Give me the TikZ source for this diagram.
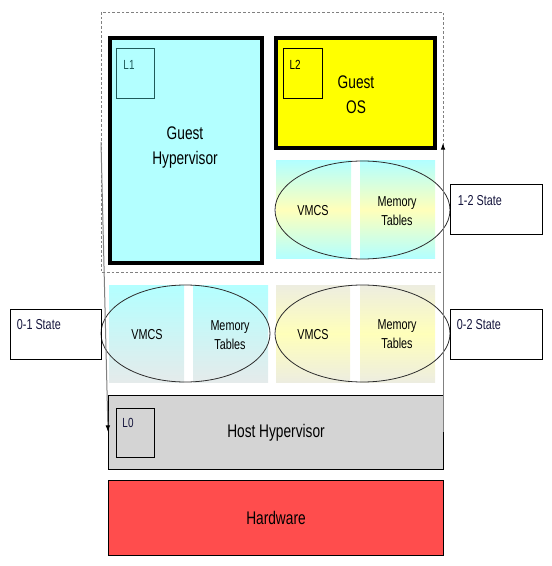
\documentclass[tikz,border=0pt]{standalone}
\usepackage{fontspec}
\setmainfont{Liberation Sans}[FakeStretch=0.75]
\usetikzlibrary{arrows.meta}

\definecolor{hypcyan}{RGB}{179,255,255}
\definecolor{osyellow}{RGB}{255,255,0}
\definecolor{hostgray}{RGB}{212,212,212}
\definecolor{hwred}{RGB}{255,77,77}
\definecolor{paleyellow}{RGB}{255,255,186}
\definecolor{palegray}{RGB}{229,235,235}
\definecolor{palebeige}{RGB}{237,237,224}
\definecolor{tealline}{RGB}{31,90,90}
\definecolor{labelink}{RGB}{20,20,60}
\definecolor{ringline}{RGB}{45,45,45}

\tikzset{every picture/.style={line width=0.75pt}}
\tikzset{
  bigtext/.style={font=\fontsize{13.7}{18.75}\selectfont, align=center},
  midtext/.style={font=\fontsize{10.8}{14.25}\selectfont, align=center},
  tagtext/.style={font=\fontsize{9.9}{12}\selectfont},
  statetext/.style={font=\fontsize{10.8}{13}\selectfont, text=labelink, anchor=west},
  statering/.style={draw=ringline, line width=0.6pt},
  statelink/.style={draw=gray, line width=0.75pt, -{Latex[length=5pt,width=3.5pt,color=black]}},
}

\begin{document}
\begin{tikzpicture}[x=0.75pt,y=0.75pt,yscale=-1,xscale=1]
	\useasboundingbox (0,0) rectangle (551,566);

	%Shape: Rectangle [dashed frame] 
	\draw [draw=gray, line width=0.6pt, dash pattern=on 2pt off 1.5pt] (101,12) rectangle (443,272) ;

	%Shape: Rectangle [guest hypervisor] 
	\draw [fill=hypcyan, line width=2.4pt] (110,38) rectangle (262,263) ;
	%Shape: Rectangle [l1 tag] 
	\draw [draw=tealline] (116,49) rectangle (154,99) ;
	%Shape: Rectangle [guest os] 
	\draw [fill=osyellow, line width=2.4pt] (276,38) rectangle (435,148) ;
	%Shape: Rectangle [l2 tag] 
	\draw (283,49) rectangle (322,99) ;

	%Shape: Shaded panels [1-2 state] 
	\shade [top color=hypcyan, bottom color=hypcyan, middle color=paleyellow] (276,161) rectangle (351,258) ;
	\shade [top color=hypcyan, bottom color=hypcyan, middle color=paleyellow] (360,161) rectangle (435,258) ;
	%Shape: Ellipse 
	\draw [statering] (362.5,210) ellipse [x radius=87.5, y radius=49] ;

	%Shape: Shaded panels [0-1 state] 
	\shade [top color=hypcyan, bottom color=palegray] (109,285) rectangle (184,382) ;
	\shade [top color=hypcyan, bottom color=palegray] (193,285) rectangle (268,382) ;
	%Shape: Ellipse 
	\draw [statering] (185.5,333.5) ellipse [x radius=84.5, y radius=48.5] ;

	%Shape: Shaded panels [0-2 state] 
	\shade [top color=palebeige, bottom color=palebeige, middle color=paleyellow] (276,285) rectangle (350,382) ;
	\shade [top color=palebeige, bottom color=palebeige, middle color=paleyellow] (360,285) rectangle (435,382) ;
	%Shape: Ellipse 
	\draw [statering] (362.5,333.5) ellipse [x radius=87.5, y radius=48.5] ;

	%Shape: Rectangle [state boxes] 
	\draw (10,309) rectangle (101,359) ;
	\draw (450,185) rectangle (542,235) ;
	\draw (450,309) rectangle (542,359) ;

	%Shape: Rectangle [host hypervisor] 
	\draw [fill=hostgray] (108,395) rectangle (443,469) ;
	%Shape: Rectangle [l0 tag] 
	\draw (116,408) rectangle (154,457) ;
	%Shape: Rectangle [hardware] 
	\draw [fill=hwred] (108,480) rectangle (443,555) ;

	%Straight Lines [state links] 
	\coordinate (l1tap) at (101,142) ;
	\coordinate (l0in) at (108,432) ;
	\coordinate (l0out) at (443,432) ;
	\coordinate (l2tap) at (443,143) ;
	\draw [statelink] (l1tap) -- (l0in) ;
	\draw [statelink] (l0out) -- (l2tap) ;

	% Text Node
	\draw (129,65) node [tagtext, text=tealline] (tagl1) {L1};
	\draw (295,65) node [tagtext] (tagl2) {L2};
	\draw (128,423) node [tagtext, text=labelink] (tagl0) {L0};
	\draw (185,148) node [bigtext] (guesthyp) {Guest\\Hypervisor};
	\draw (356,94.5) node [bigtext] (guestos) {Guest\\OS};
	\draw (276,433) node [bigtext] (hosthyp) {Host Hypervisor};
	\draw (276,518) node [bigtext] (hardware) {Hardware};
	% Text Node
	\draw (313,211) node [midtext] (vmcsa) {VMCS};
	\draw (397,211.5) node [midtext] (memtaba) {Memory\\Tables};
	\draw (147,335) node [midtext] (vmcsb) {VMCS};
	\draw (230,335) node [midtext] (memtabb) {Memory\\Tables};
	\draw (313,335) node [midtext] (vmcsc) {VMCS};
	\draw (397,334.5) node [midtext] (memtabc) {Memory\\Tables};
	% Text Node
	\draw (453,201) node [statetext] (st12) {1-2 State};
	\draw (12,325) node [statetext] (st01) {0-1 State};
	\draw (452,325) node [statetext] (st02) {0-2 State};

\end{tikzpicture}
\end{document}
